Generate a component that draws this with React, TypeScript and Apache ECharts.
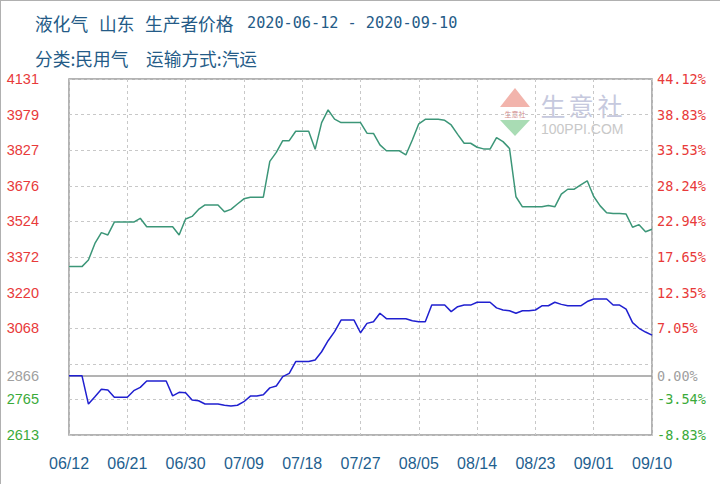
import React, { useEffect, useRef } from "react";
import * as echarts from "echarts";

const startDate = "2020-06-12";
const dayCount = 91;

const greenValues = [
  3331, 3331, 3331, 3359, 3430, 3476, 3466, 3521, 3521, 3521, 3521,
  3537, 3501, 3501, 3501, 3501, 3501, 3466, 3534, 3545, 3575,
  3594, 3594, 3594, 3565, 3575, 3598, 3620, 3627, 3627, 3627,
  3780, 3818, 3868, 3868, 3908, 3908, 3908, 3831, 3945, 3999,
  3960, 3945, 3945, 3945, 3945, 3900, 3899, 3850, 3825, 3825,
  3825, 3807, 3871, 3940, 3959, 3959, 3959, 3955, 3935, 3895,
  3857, 3857, 3840, 3833, 3832, 3881, 3864, 3835, 3629, 3586,
  3586, 3586, 3586, 3592, 3586, 3640, 3661, 3661, 3680, 3697,
  3630, 3590, 3561, 3558, 3558, 3555, 3499, 3510, 3480, 3490,
];

const blueValues = [
  2866, 2866, 2866, 2745, 2776, 2808, 2805, 2774, 2774, 2774, 2802,
  2816, 2843, 2843, 2843, 2843, 2780, 2795, 2793, 2762, 2759,
  2745, 2745, 2745, 2740, 2737, 2740, 2755, 2779, 2779, 2785,
  2814, 2822, 2862, 2876, 2926, 2926, 2926, 2933, 2968, 3015,
  3054, 3103, 3103, 3103, 3049, 3089, 3096, 3132, 3109, 3109,
  3109, 3109, 3100, 3096, 3096, 3167, 3167, 3167, 3139, 3160,
  3167, 3167, 3179, 3179, 3179, 3155, 3146, 3143, 3132, 3143,
  3143, 3146, 3164, 3164, 3179, 3170, 3164, 3164, 3164, 3182,
  3193, 3193, 3193, 3167, 3167, 3150, 3092, 3068, 3052, 3039,
];

const leftTicks = [4131, 3979, 3827, 3676, 3524, 3372, 3220, 3068, 2866, 2765, 2613];
const rightTickLabels = ["44.12%", "38.83%", "33.53%", "28.24%", "22.94%", "17.65%", "12.35%", "7.05%", "0.00%", "-3.54%", "-8.83%"];
const baseValue = 2866;
const axisMin = 2613;
const axisMax = 4131;
const gridStep = 151.8;

const titleParts = ["液化气", "山东", "生产者价格"];
const titleRange = "2020-06-12 - 2020-09-10";
const subtitleParts = ["分类:民用气", "运输方式:汽运"];

function buildDates(): string[] {
  const out: string[] = [];
  const d0 = new Date(startDate + "T00:00:00Z");
  for (let i = 0; i < dayCount; i++) {
    const d = new Date(d0.getTime() + i * 86400000);
    const mm = String(d.getUTCMonth() + 1).padStart(2, "0");
    const dd = String(d.getUTCDate()).padStart(2, "0");
    out.push(mm + "/" + dd);
  }
  return out;
}

const RED = "#e83a3a";
const GRAY = "#a0a0a0";
const GREEN = "#3aaa3a";
const labelColor = (v: any) => {
  const n = Number(v);
  if (Math.abs(n - baseValue) < 0.5) return GRAY;
  return n > baseValue ? RED : GREEN;
};

const TITLE_COLOR = "#245b87";

function headText(text: string, x: number, y: number, size: number, family: string) {
  return {
    type: "text", x, y, silent: true,
    style: { text, fontSize: size, fontFamily: family, fill: TITLE_COLOR, verticalAlign: "middle", align: "left" },
  };
}

export default function App() {
  const ref = useRef<HTMLDivElement>(null);
  useEffect(() => {
    const chart = echarts.init(ref.current!, null, { renderer: "svg" });
    const dates = buildDates();
    const cjk = "Noto Sans CJK SC";
    const option: any = {
      animation: false,
      backgroundColor: "#fff",
      grid: {
        left: 69,
        right: 68,
        top: 79,
        bottom: 49,
        show: true,
        borderColor: "#9a9a9a",
        borderWidth: 1.5,
        backgroundColor: "transparent",
      },
      xAxis: {
        type: "category",
        data: dates,
        boundaryGap: false,
        axisLine: { show: false },
        axisTick: { show: false },
        axisLabel: {
          interval: 8,
          margin: 20,
          color: "#1f5f8f",
          fontSize: 16,
          fontFamily: "Liberation Sans, Arial",
        },
        splitLine: {
          show: true,
          interval: 8,
          lineStyle: { color: "#c8c8c8", type: [3, 3], width: 1 },
        },
      },
      yAxis: [
        {
          type: "value",
          min: axisMin,
          max: axisMax,
          interval: gridStep,
          position: "left",
          axisLine: { show: false },
          axisTick: { show: false },
          splitLine: { show: true, lineStyle: { color: "#c8c8c8", type: [3, 3], width: 1 } },
          axisLabel: {
            customValues: leftTicks,
            margin: 30,
            fontSize: 14.5,
            fontFamily: "Liberation Sans, Arial",
            color: labelColor,
            formatter: (v: number) => String(Math.round(v)),
          },
        },
        {
          type: "value",
          min: axisMin,
          max: axisMax,
          interval: gridStep,
          position: "right",
          axisLine: { show: false },
          axisTick: { show: false },
          splitLine: { show: false },
          axisLabel: {
            customValues: leftTicks,
            margin: 5,
            fontSize: 13.5,
            fontFamily: "DejaVu Sans Mono, monospace",
            color: labelColor,
            formatter: (v: number) => {
              const i = leftTicks.findIndex((t) => Math.abs(t - v) < 0.5);
              return i >= 0 ? rightTickLabels[i] : "";
            },
          },
        },
      ],
      series: [
        {
          type: "line",
          name: "green",
          data: greenValues,
          yAxisIndex: 0,
          symbol: "none",
          lineStyle: { color: "#3c9678", width: 1.5 },
          z: 3,
          markLine: {
            silent: true,
            symbol: "none",
            label: { show: false },
            lineStyle: { color: "#9a9a9a", type: "solid", width: 1.5 },
            data: [{ yAxis: baseValue }],
            z: 1,
          },
        },
        {
          type: "line",
          name: "blue",
          data: blueValues,
          yAxisIndex: 0,
          symbol: "none",
          lineStyle: { color: "#2020d0", width: 1.5 },
          z: 4,
        },
      ],
      graphic: [
        { type: "line", shape: { x1: 0, y1: 0.5, x2: 720, y2: 0.5 }, style: { stroke: "#b0b0b0", lineWidth: 1 }, silent: true },
        { type: "line", shape: { x1: 0.5, y1: 0, x2: 0.5, y2: 484 }, style: { stroke: "#b0b0b0", lineWidth: 1 }, silent: true },
        headText(titleParts[0], 35, 23, 17.7, cjk),
        headText(titleParts[1], 99, 23, 17.7, cjk),
        headText(titleParts[2], 145, 23, 17.7, cjk),
        headText(titleRange, 247, 23, 15.2, "DejaVu Sans Mono"),
        headText(subtitleParts[0], 35, 58, 17.7, cjk),
        headText(subtitleParts[1], 146, 58, 17.7, cjk),
        // watermark
        { type: "polygon", z: 0, silent: true, shape: { points: [[515, 88], [500, 107], [530, 107]] }, style: { fill: "#f2b4ac" } },
        { type: "polygon", z: 0, silent: true, shape: { points: [[500, 120], [530, 120], [515, 136]] }, style: { fill: "#a9dcb4" } },
        { type: "text", z: 0, silent: true, x: 515, y: 113.5, style: { text: "生意社", fontSize: 7, fontFamily: cjk, fill: "#d08a8a", align: "center", verticalAlign: "middle" } },
        { type: "text", z: 0, silent: true, x: 553, y: 105, style: { text: "生", fontSize: 25, fontFamily: cjk, fill: "#c6c9de", align: "center", verticalAlign: "middle" } },
        { type: "text", z: 0, silent: true, x: 581, y: 105, style: { text: "意", fontSize: 25, fontFamily: cjk, fill: "#c6c9de", align: "center", verticalAlign: "middle" } },
        { type: "text", z: 0, silent: true, x: 610, y: 105, style: { text: "社", fontSize: 25, fontFamily: cjk, fill: "#c6c9de", align: "center", verticalAlign: "middle" } },
        { type: "text", z: 0, silent: true, x: 541, y: 129, style: { text: "100PPI.COM", fontSize: 14, fontFamily: "Liberation Sans, Arial", fill: "#c8c8c8", align: "left", verticalAlign: "middle" } },
      ],
    };
    chart.setOption(option);
    return () => chart.dispose();
  }, []);
  return (
    <div
      ref={ref}
      style={{ position: "absolute", left: 0, top: 0, width: 720, height: 484, background: "#fff" }}
    />
  );
}
